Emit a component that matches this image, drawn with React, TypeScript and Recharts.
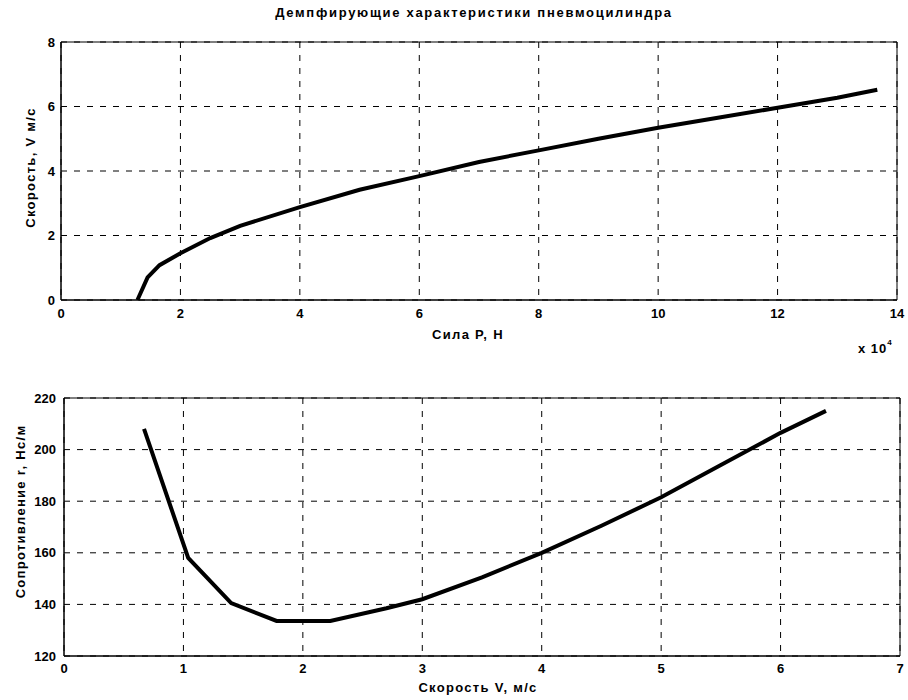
import { LineChart, Line, XAxis, YAxis, CartesianGrid, ReferenceArea } from 'recharts';

// top plot: speed vs force (force in N, axis shown as x 10^4)
const forceN = [12800, 14500, 16500, 20000, 25000, 30000, 40000, 50000, 60000, 70000, 80000, 90000, 100000, 110000, 120000, 130000, 136700];
const speedTop = [0, 0.7, 1.08, 1.45, 1.92, 2.3, 2.88, 3.42, 3.84, 4.28, 4.64, 5.0, 5.34, 5.65, 5.96, 6.27, 6.52];
const forceTicks = [0, 20000, 40000, 60000, 80000, 100000, 120000, 140000];
const speedTicksTop = [0, 2, 4, 6, 8];

// bottom plot: resistance vs speed
const speedV = [0.67, 1.04, 1.4, 1.78, 2.23, 2.7, 3.0, 3.5, 4.0, 4.5, 5.0, 5.5, 6.0, 6.38];
const resistR = [208, 158, 140.5, 133.6, 133.6, 138.5, 142, 150.5, 160, 170.5, 181.5, 194, 206.5, 215];
const speedTicksBottom = [0, 1, 2, 3, 4, 5, 6, 7];
const resistTicks = [120, 140, 160, 180, 200, 220];

const FONT = '"Liberation Sans", Arial, sans-serif';
const tickStyle = { fontSize: 13, fontWeight: 700, fill: '#000' };
const gridDash = '6 7';
const labelStyle = { fontSize: 13, fontWeight: 700, letterSpacing: 1.3, whiteSpace: 'nowrap' as const };

export default function App() {
  const topData = forceN.map((f, i) => ({ force: f, speed: speedTop[i] }));
  const bottomData = speedV.map((v, i) => ({ v, r: resistR[i] }));

  return (
    <div style={{ position: 'absolute', left: 0, top: 0, width: 908, height: 700, background: '#fff', fontFamily: FONT, color: '#000' }}>
      <div style={{ position: 'absolute', left: 0, top: 5, width: 948, textAlign: 'center', fontSize: 13, fontWeight: 700, letterSpacing: 1.7 }}>
        Демпфирующие характеристики пневмоцилиндра
      </div>

      {/* top plot */}
      <div style={{ position: 'absolute', left: 0, top: 0 }}>
        <LineChart width={908} height={340} data={topData} margin={{ top: 42, right: 11, bottom: 0, left: 0 }}>
          <CartesianGrid stroke="#000" strokeDasharray={gridDash} strokeWidth={1} />
          <XAxis
            dataKey="force"
            type="number"
            domain={[0, 140000]}
            ticks={forceTicks}
            interval={0}
            tickFormatter={(v: number) => String(v / 10000)}
            height={40}
            tickLine={false}
            tickSize={0}
            tickMargin={9}
            axisLine={{ stroke: '#000' }}
            tick={tickStyle}
          />
          <YAxis
            type="number"
            domain={[0, 8]}
            ticks={speedTicksTop}
            interval={0}
            width={61}
            tickLine={false}
            tickSize={0}
            tickMargin={6}
            axisLine={{ stroke: '#000' }}
            tick={tickStyle}
          />
          <ReferenceArea x1={0} x2={140000} y1={0} y2={8} fill="none" stroke="#000" strokeWidth={1} />
          <Line type="linear" dataKey="speed" stroke="#000" strokeWidth={4} dot={false} isAnimationActive={false} />
        </LineChart>
      </div>
      <div style={{ position: 'absolute', left: 368, top: 327, width: 200, textAlign: 'center', ...labelStyle }}>
        Сила P, H
      </div>
      <div style={{ position: 'absolute', left: 858, top: 341, ...labelStyle, letterSpacing: 1 }}>
        x 10<sup style={{ fontSize: 8, verticalAlign: 'top', position: 'relative', top: -3 }}>4</sup>
      </div>
      <div style={{ position: 'absolute', left: 30, top: 168, width: 0, height: 0 }}>
        <div style={{ position: 'absolute', left: -100, top: -8, width: 200, textAlign: 'center', transform: 'rotate(-90deg)', ...labelStyle }}>
          Скорость, V м/с
        </div>
      </div>

      {/* bottom plot */}
      <div style={{ position: 'absolute', left: 0, top: 350 }}>
        <LineChart width={908} height={350} data={bottomData} margin={{ top: 48, right: 8, bottom: 0, left: 0 }}>
          <CartesianGrid stroke="#000" strokeDasharray={gridDash} strokeWidth={1} />
          <XAxis
            dataKey="v"
            type="number"
            domain={[0, 7]}
            ticks={speedTicksBottom}
            interval={0}
            height={44}
            tickLine={false}
            tickSize={0}
            tickMargin={8}
            axisLine={{ stroke: '#000' }}
            tick={tickStyle}
          />
          <YAxis
            type="number"
            domain={[120, 220]}
            ticks={resistTicks}
            interval={0}
            width={64}
            tickLine={false}
            tickSize={0}
            tickMargin={8}
            axisLine={{ stroke: '#000' }}
            tick={tickStyle}
          />
          <ReferenceArea x1={0} x2={7} y1={120} y2={220} fill="none" stroke="#000" strokeWidth={1} />
          <Line type="linear" dataKey="r" stroke="#000" strokeWidth={4} dot={false} isAnimationActive={false} />
        </LineChart>
      </div>
      <div style={{ position: 'absolute', left: 378, top: 680, width: 200, textAlign: 'center', ...labelStyle }}>
        Скорость V, м/с
      </div>
      <div style={{ position: 'absolute', left: 20, top: 512, width: 0, height: 0 }}>
        <div style={{ position: 'absolute', left: -120, top: -8, width: 240, textAlign: 'center', transform: 'rotate(-90deg)', ...labelStyle }}>
          Сопротивление r, Нс/м
        </div>
      </div>
    </div>
  );
}
